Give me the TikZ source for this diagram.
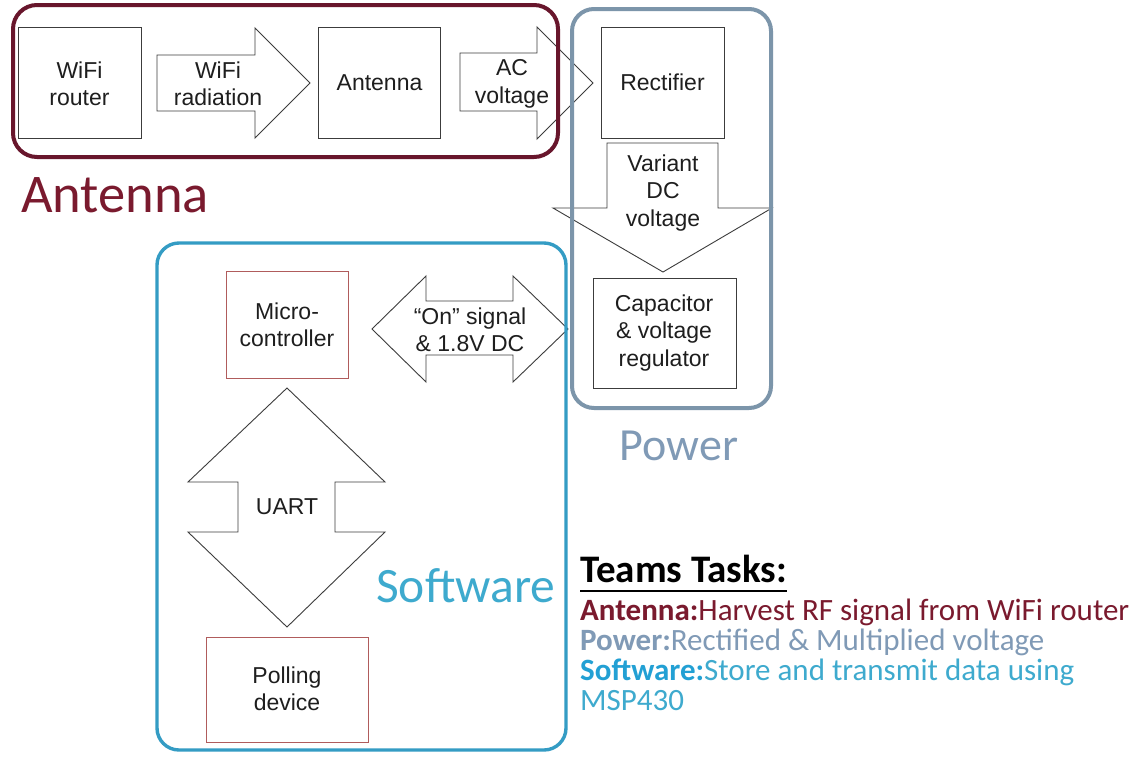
\documentclass[tikz,border=0pt]{standalone}
\usepackage{fontspec}
\setmainfont{Liberation Sans}
\newfontfamily\calfont{Carlito}
\usetikzlibrary{calc}

\definecolor{antC}{RGB}{104,22,44}
\definecolor{antT}{RGB}{122,26,46}
\definecolor{pwrC}{RGB}{124,149,170}
\definecolor{pwrT}{RGB}{128,154,182}
\definecolor{swC}{RGB}{52,156,196}
\definecolor{swT}{RGB}{62,170,206}
\definecolor{swB}{RGB}{34,160,212}
\definecolor{mcuC}{RGB}{176,92,92}
\definecolor{lineC}{RGB}{60,60,60}
\definecolor{txtC}{RGB}{30,30,30}

\tikzset{
  group/.style={line width=4pt, rounded corners=24pt},
  block/.style={draw=lineC, line width=0.9pt},
  btext/.style={align=center, text=txtC, font=\fontsize{23}{27.5}\selectfont, inner sep=0pt},
  blockarrow/.style={draw=lineC, line width=0.9pt, line join=miter},
  biglabel/.style={inner sep=0pt},
  tasktext/.style={font=\calfont\fontsize{31}{32}\selectfont, inner sep=0pt, anchor=base west},
}

\begin{document}
\begin{tikzpicture}[x=1pt,y=-1pt]
\useasboundingbox[fill=white] (0,0) rectangle (1140,769);

% ---- Antenna group ----
\draw[block] (18,27) rectangle (141,138);
\node[btext] (router) at (79.5,84) {WiFi\\router};
\draw[blockarrow] (157,55) -- (255,55) -- (255,28) -- (310,83) -- (255,138) -- (255,111) -- (157,111) -- cycle;
\node[btext] (radiation) at (218,84) {WiFi\\radiation};
\draw[block] (318,27) rectangle (440,138);
\node[btext] (antenna) at (379.5,83) {Antenna};
\draw[blockarrow] (460,53) -- (537,53) -- (537,27) -- (593,83) -- (537,139) -- (537,111) -- (460,111) -- cycle;
\node[btext] (acv) at (512,84) {AC\\voltage};
\draw[group, draw=antC] (13,5) rectangle (558,157);
\node[biglabel, font=\calfont\fontsize{54.5}{58}\selectfont, text=antT, anchor=base west] (antlabel) at (21,212) {Antenna};

% ---- Power group ----
\draw[block] (601,27) rectangle (724,138);
\node[btext] (rect) at (662.5,82) {Rectifier};
\draw[blockarrow] (607,143) -- (718,143) -- (718,208) -- (772,208) -- (663,272) -- (553,208) -- (607,208) -- cycle;
\node[btext] (vdc) at (663,193) {Variant\\DC\\voltage};
\draw[block] (593,278) rectangle (736,388);
\node[btext] (cap) at (664,333) {Capacitor\\\& voltage\\regulator};
\draw[group, draw=pwrC, rounded corners=22pt] (572,9) rectangle (771,408);
\node[biglabel, font=\calfont\fontsize{46}{50}\selectfont, text=pwrT, anchor=base] (pwrlabel) at (679,460) {Power};

% ---- Software group ----
\draw[block, draw=mcuC] (226,271) rectangle (348,378);
\node[btext] (mcu) at (287,325) {Micro-\\controller};
\draw[blockarrow] (372,329) -- (426,276) -- (426,301) -- (513,301) -- (513,276) -- (568,329)
  -- (513,382) -- (513,355) -- (426,355) -- (426,382) -- cycle;
\node[btext] (onsig) at (470,330) {``On'' signal\\\& 1.8V DC};
\draw[blockarrow] (287,388) -- (385,482) -- (335,482) -- (335,532) -- (385,532) -- (287,627)
  -- (188,532) -- (238,532) -- (238,482) -- (188,482) -- cycle;
\node[btext] (uart) at (287,507) {UART};
\draw[block, draw=mcuC] (206,637) rectangle (368,742);
\node[btext] (poll) at (287,689) {Polling\\device};
\draw[group, draw=swC, line width=3.4pt, rounded corners=22pt] (157,243) rectangle (566,750);
\node[biglabel, font=\calfont\fontsize{49.5}{52}\selectfont, text=swT, anchor=base west] (swlabel) at (376,602) {Software};

% ---- Team tasks ----
\node[tasktext, font=\calfont\bfseries\fontsize{39}{40}\selectfont] (tt) at (580,582) {Teams Tasks:};
\draw[line width=2.8pt] ($(tt.base west)+(0,9)$) -- ($(tt.base east)+(0,9)$);
\node[tasktext] (t1) at (580,620) {\textcolor{antT}{\bfseries Antenna:}\textcolor{antT}{Harvest RF signal from WiFi router}};
\node[tasktext] (t2) at (580,650) {\textcolor{pwrT}{\bfseries Power:}\textcolor{pwrT}{Rectified \& Multiplied voltage}};
\node[tasktext] (t3) at (580,680) {\textcolor{swB}{\bfseries Software:}\textcolor{swT}{Store and transmit data using}};
\node[tasktext, text=swT] (t4) at (580,710) {MSP430};
\end{tikzpicture}
\end{document}
